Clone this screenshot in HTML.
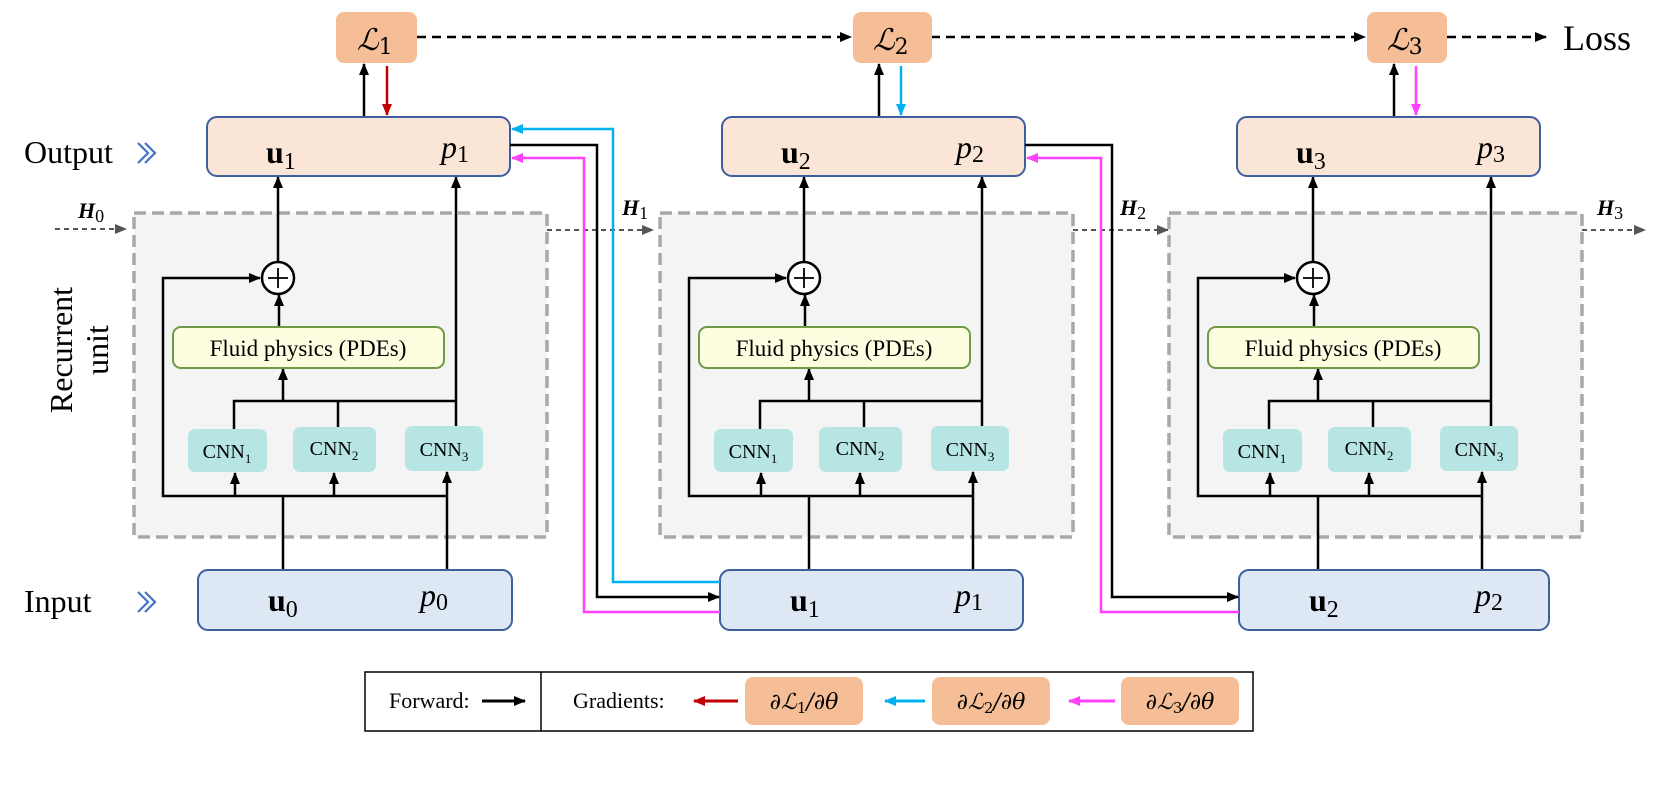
<!DOCTYPE html>
<html><head><meta charset="utf-8"><style>
html,body{margin:0;padding:0;background:#fff;}
svg{display:block;font-family:"Liberation Serif","DejaVu Serif",serif;}
</style></head><body>
<svg width="1661" height="792" viewBox="0 0 1661 792" xmlns="http://www.w3.org/2000/svg">
<defs>
<marker id="ak" markerWidth="12" markerHeight="10" refX="11" refY="5" orient="auto" markerUnits="userSpaceOnUse"><path d="M0,0 L12,5 L0,10 z" fill="#000"/></marker>
<marker id="ag" markerWidth="12" markerHeight="10" refX="11" refY="5" orient="auto" markerUnits="userSpaceOnUse"><path d="M0,0 L12,5 L0,10 z" fill="#555"/></marker>
<marker id="ar" markerWidth="12" markerHeight="10" refX="11" refY="5" orient="auto" markerUnits="userSpaceOnUse"><path d="M0,0 L12,5 L0,10 z" fill="#c00000"/></marker>
<marker id="ab" markerWidth="12" markerHeight="10" refX="11" refY="5" orient="auto" markerUnits="userSpaceOnUse"><path d="M0,0 L12,5 L0,10 z" fill="#00b0f0"/></marker>
<marker id="am" markerWidth="12" markerHeight="10" refX="11" refY="5" orient="auto" markerUnits="userSpaceOnUse"><path d="M0,0 L12,5 L0,10 z" fill="#ff40ff"/></marker>
<g id="unit">
  <rect x="134" y="213" width="413" height="324" fill="#f4f4f4" stroke="#aaa7a7" stroke-width="3.5" stroke-dasharray="12,6"/>
  <g stroke="#000" stroke-width="2.5" fill="none">
    <polyline points="283,570 283,496"/>
    <polyline points="447,496 163,496 163,278 260,278" marker-end="url(#ak)"/>
    <line x1="235" y1="496" x2="235" y2="473" marker-end="url(#ak)"/>
    <line x1="334" y1="496" x2="334" y2="473" marker-end="url(#ak)"/>
    <line x1="447" y1="570" x2="447" y2="472" marker-end="url(#ak)"/>
    <polyline points="234,429 234,401 456,401"/>
    <line x1="338" y1="427" x2="338" y2="401"/>
    <line x1="456" y1="426" x2="456" y2="177" marker-end="url(#ak)"/>
    <line x1="283" y1="401" x2="283" y2="369" marker-end="url(#ak)"/>
    <line x1="279" y1="327" x2="279" y2="295" marker-end="url(#ak)"/>
    <line x1="278" y1="262" x2="278" y2="177" marker-end="url(#ak)"/>
    <circle cx="278" cy="278" r="16" fill="#fff"/>
    <line x1="268" y1="278" x2="288" y2="278" stroke-width="1.8"/>
    <line x1="278" y1="268" x2="278" y2="288" stroke-width="1.8"/>
  </g>
  <rect x="173" y="327" width="271" height="41" rx="8" fill="#fdfde0" stroke="#6f9a48" stroke-width="2"/>
  <text x="308" y="356" font-size="23" text-anchor="middle">Fluid physics (PDEs)</text>
  <rect x="188" y="429" width="79" height="43" rx="7" fill="#b6e5e3"/>
  <rect x="293" y="427" width="83" height="45" rx="7" fill="#b6e5e3"/>
  <rect x="405" y="426" width="78" height="45" rx="7" fill="#b6e5e3"/>
  <text x="227" y="458" font-size="20" text-anchor="middle">CNN<tspan font-size="13" dy="5">1</tspan></text>
  <text x="334" y="455" font-size="20" text-anchor="middle">CNN<tspan font-size="13" dy="5">2</tspan></text>
  <text x="444" y="456" font-size="20" text-anchor="middle">CNN<tspan font-size="13" dy="5">3</tspan></text>
</g>
</defs>

<use href="#unit"/>
<use href="#unit" transform="translate(526,0)"/>
<use href="#unit" transform="translate(1035,0)"/>

<g stroke="#000" stroke-width="2.5" stroke-dasharray="9,6" fill="none">
  <line x1="417" y1="37" x2="851" y2="37" marker-end="url(#ak)"/>
  <line x1="931" y1="37" x2="1365" y2="37" marker-end="url(#ak)"/>
  <line x1="1447" y1="37" x2="1546" y2="37" marker-end="url(#ak)"/>
</g>
<text x="1563" y="50" font-size="36">Loss</text>

<g stroke="#555" stroke-width="2" stroke-dasharray="5,4" fill="none">
  <line x1="55" y1="229" x2="126" y2="229" marker-end="url(#ag)"/>
  <line x1="547" y1="230" x2="653" y2="230" marker-end="url(#ag)"/>
  <line x1="1073" y1="230" x2="1168" y2="230" marker-end="url(#ag)"/>
  <line x1="1582" y1="230" x2="1645" y2="230" marker-end="url(#ag)"/>
</g>
<g font-size="22" font-weight="bold" font-style="italic">
  <text x="78" y="218">H<tspan font-size="18" font-weight="normal" font-style="normal" dy="4">0</tspan></text>
  <text x="622" y="215">H<tspan font-size="18" font-weight="normal" font-style="normal" dy="4">1</tspan></text>
  <text x="1120" y="215">H<tspan font-size="18" font-weight="normal" font-style="normal" dy="4">2</tspan></text>
  <text x="1597" y="215">H<tspan font-size="18" font-weight="normal" font-style="normal" dy="4">3</tspan></text>
</g>

<g>
  <rect x="336" y="12" width="81" height="51" rx="8" fill="#f5be96"/>
  <rect x="853" y="12" width="79" height="51" rx="8" fill="#f5be96"/>
  <rect x="1367" y="12" width="80" height="51" rx="8" fill="#f5be96"/>
</g>
<g font-size="30" font-family="'DejaVu Serif',serif" font-style="italic">
  <text x="357" y="50">ℒ<tspan font-size="22" font-style="normal" dy="4">1</tspan></text>
  <text x="873" y="50">ℒ<tspan font-size="22" font-style="normal" dy="4">2</tspan></text>
  <text x="1387" y="50">ℒ<tspan font-size="22" font-style="normal" dy="4">3</tspan></text>
</g>
<g stroke-width="2.5">
  <line x1="364" y1="117" x2="364" y2="64" stroke="#000" marker-end="url(#ak)"/>
  <line x1="387" y1="66" x2="387" y2="115" stroke="#c00000" marker-end="url(#ar)"/>
  <line x1="879" y1="117" x2="879" y2="64" stroke="#000" marker-end="url(#ak)"/>
  <line x1="901" y1="66" x2="901" y2="115" stroke="#00b0f0" marker-end="url(#ab)"/>
  <line x1="1394" y1="117" x2="1394" y2="64" stroke="#000" marker-end="url(#ak)"/>
  <line x1="1416" y1="66" x2="1416" y2="115" stroke="#ff40ff" marker-end="url(#am)"/>
</g>

<g fill="#fbe5d6" stroke="#3e5f9e" stroke-width="2">
  <rect x="207" y="117" width="303" height="59" rx="10"/>
  <rect x="722" y="117" width="303" height="59" rx="10"/>
  <rect x="1237" y="117" width="303" height="59" rx="10"/>
</g>
<g fill="#dde8f4" stroke="#3e5f9e" stroke-width="2">
  <rect x="198" y="570" width="314" height="60" rx="10"/>
  <rect x="720" y="570" width="303" height="60" rx="10"/>
  <rect x="1239" y="570" width="310" height="60" rx="10"/>
</g>
<g font-size="32">
  <text x="266" y="163" font-weight="bold">u<tspan font-size="24" font-weight="normal" dy="6">1</tspan></text>
  <text x="441" y="158" font-style="italic">p<tspan font-size="24" font-style="normal" dy="4">1</tspan></text>
  <text x="781" y="163" font-weight="bold">u<tspan font-size="24" font-weight="normal" dy="6">2</tspan></text>
  <text x="956" y="158" font-style="italic">p<tspan font-size="24" font-style="normal" dy="4">2</tspan></text>
  <text x="1296" y="163" font-weight="bold">u<tspan font-size="24" font-weight="normal" dy="6">3</tspan></text>
  <text x="1477" y="158" font-style="italic">p<tspan font-size="24" font-style="normal" dy="4">3</tspan></text>
  <text x="268" y="611" font-weight="bold">u<tspan font-size="24" font-weight="normal" dy="6">0</tspan></text>
  <text x="420" y="606" font-style="italic">p<tspan font-size="24" font-style="normal" dy="4">0</tspan></text>
  <text x="790" y="611" font-weight="bold">u<tspan font-size="24" font-weight="normal" dy="6">1</tspan></text>
  <text x="955" y="606" font-style="italic">p<tspan font-size="24" font-style="normal" dy="4">1</tspan></text>
  <text x="1309" y="611" font-weight="bold">u<tspan font-size="24" font-weight="normal" dy="6">2</tspan></text>
  <text x="1475" y="606" font-style="italic">p<tspan font-size="24" font-style="normal" dy="4">2</tspan></text>
</g>

<g fill="none" stroke-width="2.5">
  <polyline points="720,612 584,612 584,158 512,158" stroke="#ff40ff" marker-end="url(#am)"/>
  <polyline points="720,582 613,582 613,129 512,129" stroke="#00b0f0" marker-end="url(#ab)"/>
  <polyline points="510,145 597,145 597,597 719,597" stroke="#000" marker-end="url(#ak)"/>
  <polyline points="1239,612 1101,612 1101,158 1027,158" stroke="#ff40ff" marker-end="url(#am)"/>
  <polyline points="1025,145 1112,145 1112,597 1238,597" stroke="#000" marker-end="url(#ak)"/>
</g>

<text x="24" y="163" font-size="32">Output</text>
<text x="24" y="612" font-size="32">Input</text>
<g fill="none" stroke="#4472c4" stroke-width="2.2">
  <polyline points="138,143 148,153 138,163"/><polyline points="145,143 155,153 145,163"/>
  <polyline points="138,592 148,602 138,612"/><polyline points="145,592 155,602 145,612"/>
</g>
<text transform="translate(72,350) rotate(-90)" font-size="32" text-anchor="middle">Recurrent</text>
<text transform="translate(108,350) rotate(-90)" font-size="32" text-anchor="middle">unit</text>

<rect x="365" y="672" width="888" height="59" fill="#fff" stroke="#000" stroke-width="1.5"/>
<line x1="541" y1="672" x2="541" y2="731" stroke="#000" stroke-width="1.5"/>
<text x="389" y="708" font-size="22">Forward:</text>
<line x1="482" y1="701" x2="525" y2="701" stroke="#000" stroke-width="3" marker-end="url(#ak)"/>
<text x="573" y="708" font-size="22">Gradients:</text>
<line x1="738" y1="701" x2="694" y2="701" stroke="#c00000" stroke-width="3" marker-end="url(#ar)"/>
<line x1="925" y1="701" x2="885" y2="701" stroke="#00b0f0" stroke-width="3" marker-end="url(#ab)"/>
<line x1="1115" y1="701" x2="1069" y2="701" stroke="#ff40ff" stroke-width="3" marker-end="url(#am)"/>
<rect x="745" y="677" width="118" height="48" rx="8" fill="#f5be96"/>
<rect x="932" y="677" width="118" height="48" rx="8" fill="#f5be96"/>
<rect x="1121" y="677" width="118" height="48" rx="8" fill="#f5be96"/>
<g font-size="22" font-family="'DejaVu Serif',serif" font-style="italic" text-anchor="middle">
  <text x="804" y="709">∂ℒ<tspan font-size="15" font-style="normal" dy="4">1</tspan><tspan dy="-4">/∂θ</tspan></text>
  <text x="991" y="709">∂ℒ<tspan font-size="15" font-style="normal" dy="4">2</tspan><tspan dy="-4">/∂θ</tspan></text>
  <text x="1180" y="709">∂ℒ<tspan font-size="15" font-style="normal" dy="4">3</tspan><tspan dy="-4">/∂θ</tspan></text>
</g>
</svg>
</body></html>
